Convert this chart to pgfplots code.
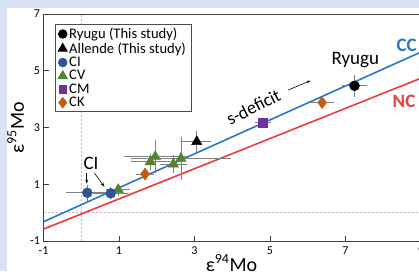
\documentclass[border=0pt]{standalone}
\usepackage{pgfplots}
\pgfplotsset{compat=1.18}
\usepackage{fontspec}
\setmainfont{Carlito}
\usetikzlibrary{arrows.meta}
\definecolor{bgblue}{HTML}{DAE3F3}
\definecolor{ciblue}{HTML}{2F5597}
\definecolor{cvgreen}{HTML}{548235}
\definecolor{cmpurple}{HTML}{7030A0}
\definecolor{ckorange}{HTML}{C55A11}
\definecolor{ccblue}{HTML}{2878C8}
\definecolor{ncred}{HTML}{F03C3C}
\definecolor{errgray}{HTML}{808080}

\pgfplotstableread{
x y ex ey
7.24 4.47 0.27 0.30
}\ryugu
\pgfplotstableread{
x y ex ey
3.06 2.50 0.32 0.29
}\allende
\pgfplotstableread{
x y ex ey
0.16 0.70 0.50 0.20
0.78 0.68 0.40 0.12
}\ci
\pgfplotstableread{
x y ex ey
0.98 0.81 0.25 0.12
1.83 1.79 0.45 0.20
1.96 1.97 0.76 0.50
2.44 1.71 0.30 0.22
2.64 1.91 1.26 0.66
}\cv
\pgfplotstableread{
x y ex ey
4.81 3.17 0.15 0.08
}\cm
\pgfplotstableread{
x y ex ey
1.69 1.36 0.18 0.10
6.38 3.88 0.25 0.08
}\ck

\begin{document}
\begin{tikzpicture}[x=1pt,y=1pt]
\useasboundingbox (0,0) rectangle (419,271);
\fill[bgblue] (0,0) rectangle (419,271);
\fill[white] (7,0) rectangle (419,263);
\begin{axis}[
  at={(43.5pt,30pt)}, anchor=south west,
  scale only axis, width=377.5pt, height=227pt,
  xmin=-1, xmax=9, ymin=-1, ymax=7,
  xtick={-1,1,3,5,7,9}, ytick={-1,1,3,5,7},
  tick align=inside, xtick pos=bottom, ytick pos=left,
  major tick length=5pt,
  axis line style={draw=black!75, line width=0.8pt},
  tick style={draw=black!75, line width=0.8pt},
  ticklabel style={font=\fontsize{12}{14}\selectfont},
  xticklabel style={yshift=-2pt},
  /pgf/number format/assume math mode=true,
  xlabel={ε\textsuperscript{94}Mo},
  ylabel={ε\textsuperscript{95}Mo},
  label style={font=\fontsize{20}{24}\selectfont},
  xlabel style={at={(axis description cs:0.498,0)}, anchor=base, yshift=-30pt},
  ylabel style={at={(axis description cs:-0.0517,0.5)}, anchor=base},
  clip=false,
  legend style={at={(0.03,0.956)}, anchor=north west, draw=black!70,
    line width=0.8pt, font=\fontsize{14.6}{16}\selectfont,
    row sep=-1.6pt, inner xsep=3pt, inner ysep=1.5pt, cells={anchor=west}},
  legend cell align=left,
  error bars/error bar style={errgray, line width=0.7pt},
  error bars/error mark options={errgray, mark size=2.5pt, line width=0.7pt},
]
\addlegendimage{only marks, mark=*, black, mark size=4.3pt}
\addlegendentry{Ryugu (This study)}
\addlegendimage{only marks, mark=triangle*, black, mark size=5.2pt}
\addlegendentry{Allende (This study)}
\addlegendimage{only marks, mark=*, ciblue, mark size=4.3pt}
\addlegendentry{CI}
\addlegendimage{only marks, mark=triangle*, cvgreen, mark size=5.2pt}
\addlegendentry{CV}
\addlegendimage{only marks, mark=square*, cmpurple, mark size=3.8pt}
\addlegendentry{CM}
\addlegendimage{only marks, mark=diamond*, ckorange, mark size=5.2pt}
\addlegendentry{CK}

\addplot[forget plot, gray!55, dash pattern=on 2pt off 2pt, line width=0.45pt] coordinates {(0,-1) (0,7)};
\addplot[forget plot, gray!55, dash pattern=on 2pt off 2pt, line width=0.45pt] coordinates {(-1,0) (9,0)};
\addplot[forget plot, ccblue, line width=1.6pt] coordinates {(-1,-0.32) (9,5.66)};
\addplot[forget plot, ncred, line width=1.6pt] coordinates {(-1,-0.58) (9,4.74)};

\addplot[forget plot, only marks, mark=triangle*, mark size=6pt, cvgreen,
  error bars/.cd, x dir=both, x explicit, y dir=both, y explicit]
  table[x=x, y=y, x error=ex, y error=ey] {\cv};
\addplot[forget plot, only marks, mark=*, mark size=5pt, ciblue,
  error bars/.cd, x dir=both, x explicit, y dir=both, y explicit]
  table[x=x, y=y, x error=ex, y error=ey] {\ci};
\addplot[forget plot, only marks, mark=diamond*, mark size=6pt, ckorange,
  error bars/.cd, x dir=both, x explicit, y dir=both, y explicit]
  table[x=x, y=y, x error=ex, y error=ey] {\ck};
\addplot[forget plot, only marks, mark=square*, mark size=4.5pt, cmpurple,
  error bars/.cd, x dir=both, x explicit, y dir=both, y explicit]
  table[x=x, y=y, x error=ex, y error=ey] {\cm};
\addplot[forget plot, only marks, mark=triangle*, mark size=6pt, black,
  error bars/.cd, x dir=both, x explicit, y dir=both, y explicit]
  table[x=x, y=y, x error=ex, y error=ey] {\allende};
\addplot[forget plot, only marks, mark=*, mark size=5pt, black,
  error bars/.cd, x dir=both, x explicit, y dir=both, y explicit]
  table[x=x, y=y, x error=ex, y error=ey] {\ryugu};

\node[font=\fontsize{19}{22}\selectfont] at (axis cs:0.26,1.72) {CI};
\draw[-{Stealth[length=4pt,width=3pt]}, line width=0.6pt] (axis cs:0.146,1.39) -- (axis cs:0.146,1.02);
\draw[-{Stealth[length=4pt,width=3pt]}, line width=0.6pt] (axis cs:0.35,1.39) -- (axis cs:0.61,0.92);
\node[rotate=27, font=\fontsize{18}{21}\selectfont] at (axis cs:4.56,3.72) {s-deficit};
\draw[-{Stealth[length=4pt,width=3pt]}, line width=0.6pt] (axis cs:5.48,4.32) -- (axis cs:6.07,4.65);
\node[font=\fontsize{19}{22}\selectfont] at (axis cs:7.26,5.37) {Ryugu};
\node[font=\bfseries\fontsize{19}{22}\selectfont, text=ccblue] at (axis cs:8.62,5.9) {CC};
\node[font=\bfseries\fontsize{19}{22}\selectfont, text=ncred] at (axis cs:8.55,3.93) {NC};
\end{axis}
\end{tikzpicture}
\end{document}
